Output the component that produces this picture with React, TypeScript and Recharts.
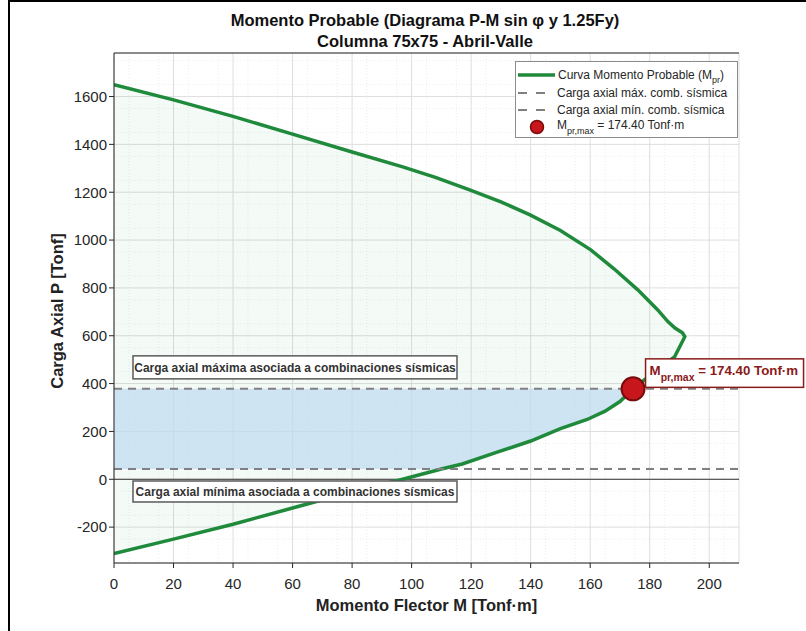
import React from 'react';
import {
  ComposedChart,
  Line,
  Area,
  XAxis,
  YAxis,
  CartesianGrid,
  ReferenceLine,
  ReferenceDot,
  Legend,
} from 'recharts';

const FONT = '"Liberation Sans", Arial, Helvetica, sans-serif';
const GREEN = '#1f8a3b';
const AXIS = '#262626';

// P-M curve traced from the tension end (bottom) up to pure compression (top)
const axialLoadP = [
  -310, -250, -188, -120, -52, 0, 43, 64, 110, 160, 212, 250, 285, 325, 378, 415, 513, 596, 612, 632,
  659, 708, 792, 880, 959, 1040, 1105, 1160, 1210, 1262, 1306, 1368, 1443, 1517, 1586, 1650,
];
const momentM = [
  0, 20, 40, 60, 80, 97, 110, 117, 128, 140, 150, 159, 165, 170, 174.4, 178.2, 188.4, 191.8, 191, 188.5,
  186.1, 182.7, 176, 168, 160.2, 150, 139.8, 130, 119.5, 108, 97, 80, 60, 40, 20, 0,
];

const momentTicks = [0, 20, 40, 60, 80, 100, 120, 140, 160, 180, 200];
const axialTicks = [-200, 0, 200, 400, 600, 800, 1000, 1200, 1400, 1600];
const momentDomain = [0, 210];
const axialDomain = [-350, 1782];

// seismic combination axial limits and probable moment at the upper limit
const pMaxSeismic = 378;
const pMinSeismic = 43;
const mprMax = 174.4;

const minorMoment = Array.from({ length: 42 }, (_, i) => i * 5);
const minorAxial = Array.from({ length: 43 }, (_, i) => -350 + i * 50);

const rows = axialLoadP.map((P, i) => ({
  P,
  M: momentM[i],
  band: P >= pMinSeismic && P <= pMaxSeismic ? momentM[i] : null,
}));

const LegendBox = () => (
  <svg width={224} height={78} style={{ display: 'block', fontFamily: FONT }}>
    <rect x={0.5} y={0.5} width={222} height={76} fill="#fff" stroke="#8c8c8c" strokeWidth={1} />
    <line x1={3} x2={40} y1={14} y2={14} stroke={GREEN} strokeWidth={3.5} />
    <text x={43} y={18} fontSize={12} fill={AXIS}>
      Curva Momento Probable (M<tspan fontSize={9} dy={4}>pr</tspan>
      <tspan dy={-4}>)</tspan>
    </text>
    <line x1={3} x2={30} y1={32} y2={32} stroke="#808080" strokeWidth={2} strokeDasharray="9 9" />
    <text x={42} y={36} fontSize={12} fill={AXIS}>
      Carga axial máx. comb. sísmica
    </text>
    <line x1={3} x2={30} y1={49} y2={49} stroke="#808080" strokeWidth={2} strokeDasharray="9 9" />
    <text x={42} y={53} fontSize={12} fill={AXIS}>
      Carga axial mín. comb. sísmica
    </text>
    <circle cx={22} cy={66} r={6.5} fill="#c8161d" stroke="#7a0b0b" strokeWidth={1.5} />
    <text x={42} y={68} fontSize={12} fill={AXIS}>
      M<tspan fontSize={9} dy={5}>pr,max</tspan>
      <tspan dy={-5}> = 174.40 Tonf·m</tspan>
    </text>
  </svg>
);

const BandLabel = (props: any) => {
  const { viewBox, text, dy, h } = props;
  const x = viewBox.x + 19;
  const y = viewBox.y + dy;
  return (
    <g>
      <rect x={x} y={y} width={324} height={h} fill="#fff" stroke="#5a5a5a" strokeWidth={1.5} />
      <text
        x={x + 162}
        y={y + h / 2 + 4.5}
        textAnchor="middle"
        fontSize={12}
        fontWeight="bold"
        fontFamily={FONT}
        fill="#333"
      >
        {text}
      </text>
    </g>
  );
};

const MprLabel = (props: any) => {
  const { viewBox } = props;
  const cx = viewBox.x + viewBox.width / 2;
  const cy = viewBox.y + viewBox.height / 2;
  const x = cx + 12.5;
  const y = cy - 30;
  return (
    <g>
      <rect x={x} y={y} width={158} height={28.5} fill="#fff" stroke="#8b1a1a" strokeWidth={1.5} />
      <text x={x + 4} y={y + 16} fontSize={13.3} fontWeight="bold" fontFamily={FONT} fill="#8b1a1a">
        M<tspan fontSize={10.5} dy={6.5}>pr,max</tspan>
        <tspan dy={-6.5}> = {mprMax.toFixed(2)} Tonf·m</tspan>
      </text>
    </g>
  );
};

const XLabel = (props: any) => {
  const { viewBox } = props;
  return (
    <text
      x={viewBox.x + viewBox.width / 2}
      y={viewBox.y + 48}
      textAnchor="middle"
      fontFamily={FONT}
      fontWeight="bold"
      fontSize={16.5}
      fill="#222"
    >
      Momento Flector M [Tonf·m]
    </text>
  );
};

const YLabel = (props: any) => {
  const { viewBox } = props;
  const x = viewBox.x + 9;
  const y = viewBox.y + viewBox.height / 2 + 3;
  return (
    <text
      x={x}
      y={y}
      transform={`rotate(-90, ${x}, ${y})`}
      textAnchor="middle"
      fontFamily={FONT}
      fontWeight="bold"
      fontSize={16.5}
      fill="#222"
    >
      Carga Axial P [Tonf]
    </text>
  );
};

const tickStyle = { fontSize: 15, fill: AXIS, fontFamily: FONT };

export default function App() {
  return (
    <div style={{ position: 'absolute', left: 0, top: 0, width: 806, height: 631, background: '#fff' }}>
      <ComposedChart
        width={806}
        height={631}
        data={rows}
        layout="vertical"
        margin={{ top: 52, right: 67, bottom: 38, left: 54 }}
      >
        <CartesianGrid
          stroke="#ededed"
          strokeDasharray="1 2"
          verticalValues={minorMoment}
          horizontalValues={minorAxial}
        />
        <CartesianGrid stroke="#dedede" />
        <XAxis
          type="number"
          domain={momentDomain}
          ticks={momentTicks}
          allowDataOverflow
          height={30}
          tickSize={5}
          tickMargin={10}
          stroke={AXIS}
          tick={tickStyle}
          label={<XLabel />}
        />
        <XAxis
          xAxisId="top"
          orientation="top"
          type="number"
          domain={momentDomain}
          ticks={momentTicks}
          allowDataOverflow
          height={1}
          tickSize={4}
          tick={false}
          stroke={AXIS}
        />
        <YAxis
          type="number"
          dataKey="P"
          domain={axialDomain}
          ticks={axialTicks}
          reversed
          allowDataOverflow
          width={60}
          tickSize={5}
          tickMargin={2}
          stroke={AXIS}
          tick={tickStyle}
          label={<YLabel />}
        />
        <YAxis
          yAxisId="right"
          orientation="right"
          type="number"
          domain={axialDomain}
          ticks={axialTicks}
          reversed
          allowDataOverflow
          width={0}
          tickSize={4}
          tick={false}
          stroke={AXIS}
        />
        <Area
          dataKey="M"
          type="linear"
          fill="#2ea043"
          fillOpacity={0.05}
          stroke="none"
          isAnimationActive={false}
        />
        <Area
          dataKey="band"
          type="linear"
          fill="#c2dcf0"
          fillOpacity={0.75}
          stroke="none"
          isAnimationActive={false}
        />
        <ReferenceLine y={0} stroke="#333" strokeWidth={1} />
        <Line
          dataKey="M"
          type="linear"
          stroke={GREEN}
          strokeWidth={3.5}
          dot={false}
          activeDot={false}
          isAnimationActive={false}
        />
        <ReferenceLine
          y={pMaxSeismic}
          stroke="#808080"
          strokeWidth={2}
          strokeDasharray="8 6"
          label={(p: any) => (
            <BandLabel {...p} text="Carga axial máxima asociada a combinaciones sísmicas" dy={-33} h={23} />
          )}
        />
        <ReferenceLine
          y={pMinSeismic}
          stroke="#808080"
          strokeWidth={2}
          strokeDasharray="8 6"
          label={(p: any) => (
            <BandLabel {...p} text="Carga axial mínima asociada a combinaciones sísmicas" dy={12} h={21} />
          )}
        />
        <ReferenceDot
          x={mprMax}
          y={pMaxSeismic}
          r={11.5}
          fill="#c8161d"
          stroke="#7a0b0b"
          strokeWidth={2}
          label={(p: any) => <MprLabel {...p} />}
        />
        <Legend
          layout="vertical"
          align="center"
          verticalAlign="middle"
          content={() => <LegendBox />}
          wrapperStyle={{ left: 515, top: 61, width: 224, height: 78 }}
        />
      </ComposedChart>
      <svg
        width={806}
        height={52}
        style={{ position: 'absolute', left: 0, top: 0, pointerEvents: 'none' }}
      >
        <g fontFamily={FONT} fontWeight="bold" fontSize={16.5} fill="#111" textAnchor="middle">
          <text x={425} y={26}>Momento Probable (Diagrama P-M sin φ y 1.25Fy)</text>
          <text x={425} y={47}>Columna 75x75 - Abril-Valle</text>
        </g>
      </svg>
      <div style={{ position: 'absolute', left: 8, top: 0, width: 798, height: 2, background: '#000' }} />
      <div style={{ position: 'absolute', left: 8, top: 0, width: 2, height: 631, background: '#000' }} />
    </div>
  );
}
